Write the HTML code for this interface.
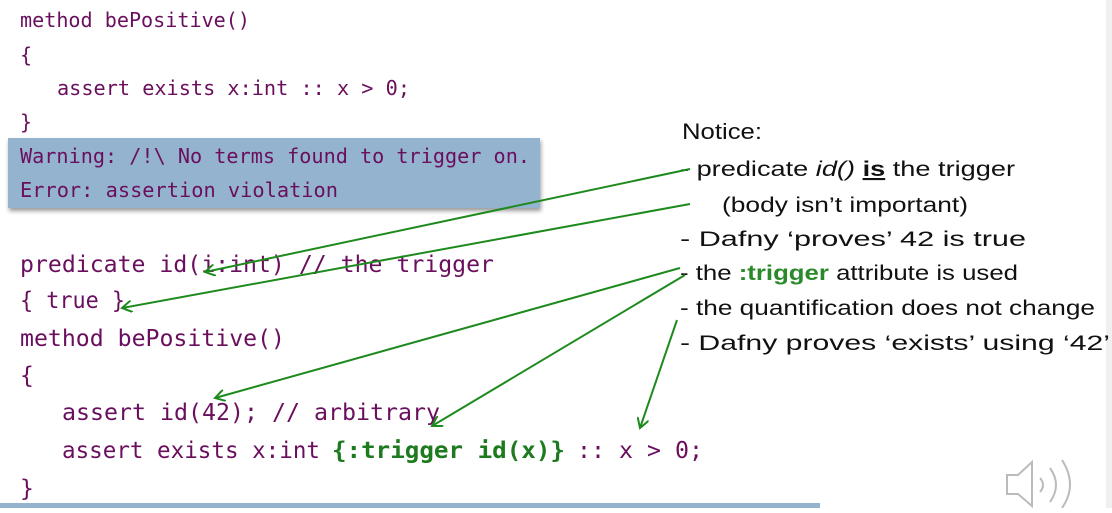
<!DOCTYPE html>
<html><head><style>html,body{margin:0;padding:0;background:#fff;overflow:hidden}</style></head>
<body>
<svg width="1112" height="508" xmlns="http://www.w3.org/2000/svg">
<defs>
<filter id="sh" x="-5%" y="-10%" width="110%" height="130%"><feDropShadow dx="1" dy="3" stdDeviation="2" flood-color="#000" flood-opacity="0.4"/></filter>
<marker id="ah" markerWidth="12" markerHeight="12" refX="10" refY="6" orient="auto" markerUnits="userSpaceOnUse"><path d="M0,0 L10,6 L0,12" fill="none" stroke="#1e8a1e" stroke-width="2"/></marker>
</defs>
<rect x="1106" y="0" width="6" height="508" fill="#f0f0f0"/>
<g font-family="'DejaVu Sans Mono','Liberation Mono',monospace" fill="#6a0f5e">
<text x="20" y="27" font-size="20" textLength="230" lengthAdjust="spacingAndGlyphs">method bePositive()</text>
<text x="20" y="62" font-size="20">{</text>
<text x="57" y="95" font-size="20" textLength="353" lengthAdjust="spacingAndGlyphs">assert exists x:int :: x &gt; 0;</text>
<text x="20" y="129" font-size="20">}</text>
<rect x="8" y="138" width="532" height="70" fill="#93b3cf" filter="url(#sh)"/>
<text x="20" y="163" font-size="20" textLength="510" lengthAdjust="spacingAndGlyphs">Warning: /!\ No terms found to trigger on.</text>
<text x="20" y="197" font-size="20" textLength="318" lengthAdjust="spacingAndGlyphs">Error: assertion violation</text>
<text x="20" y="272" font-size="23" textLength="474" lengthAdjust="spacingAndGlyphs">predicate id(i:int) // the trigger</text>
<text x="20" y="308" font-size="23" textLength="105" lengthAdjust="spacingAndGlyphs">{ true }</text>
<text x="20" y="346" font-size="23" textLength="265" lengthAdjust="spacingAndGlyphs">method bePositive()</text>
<text x="20" y="383" font-size="23">{</text>
<text x="62" y="420" font-size="23" textLength="378" lengthAdjust="spacingAndGlyphs">assert id(42); // arbitrary</text>
<text x="62" y="458" font-size="23" textLength="258" lengthAdjust="spacingAndGlyphs">assert exists x:int</text>
<text x="332" y="458" font-size="23" fill="#1e7a1e" font-weight="bold" textLength="233" lengthAdjust="spacingAndGlyphs">{:trigger id(x)}</text>
<text x="577" y="458" font-size="23" textLength="126" lengthAdjust="spacingAndGlyphs">:: x &gt; 0;</text>
<text x="20" y="496" font-size="23">}</text>
</g>
<rect x="0" y="503" width="820" height="5" fill="#93b3cf"/>
<g font-family="'Liberation Sans',sans-serif" font-size="21" fill="#111">
<text x="682" y="139" font-size="22" textLength="80" lengthAdjust="spacingAndGlyphs">Notice:</text>
<text x="680" y="176" textLength="335" lengthAdjust="spacingAndGlyphs">- predicate <tspan font-style="italic">id()</tspan> <tspan font-weight="bold" text-decoration="underline">is</tspan> the trigger</text>
<text x="722" y="212" textLength="246" lengthAdjust="spacingAndGlyphs">(body isn’t important)</text>
<text x="680" y="246" textLength="346" lengthAdjust="spacingAndGlyphs">- Dafny ‘proves’ 42 is true</text>
<text x="680" y="280" textLength="338" lengthAdjust="spacingAndGlyphs">- the <tspan fill="#2a8a2a" font-weight="bold">:trigger</tspan> attribute is used</text>
<text x="680" y="315" textLength="415" lengthAdjust="spacingAndGlyphs">- the quantification does not change</text>
<text x="680" y="350" textLength="430" lengthAdjust="spacingAndGlyphs">- Dafny proves ‘exists’ using ‘42’</text>
</g>
<g stroke="#1e8a1e" stroke-width="2" fill="none" marker-end="url(#ah)">
<line x1="690" y1="169" x2="205" y2="272"/>
<line x1="690" y1="204" x2="122" y2="308"/>
<line x1="680" y1="268" x2="215" y2="398"/>
<line x1="685" y1="275" x2="432" y2="426"/>
<line x1="677" y1="320" x2="640" y2="428"/>
</g>
<g stroke="#bbb" stroke-width="2" fill="#fff">
<path d="M1007,475 L1018,475 L1032,462 L1032,506 L1018,494 L1007,494 Z"/>
<path d="M1040,478 Q1046,485 1040,492" fill="none"/>
<path d="M1050,468 Q1062,485 1050,502" fill="none"/>
<path d="M1062,460 Q1078,485 1062,508" fill="none"/>
</g>
</svg>
</body></html>
